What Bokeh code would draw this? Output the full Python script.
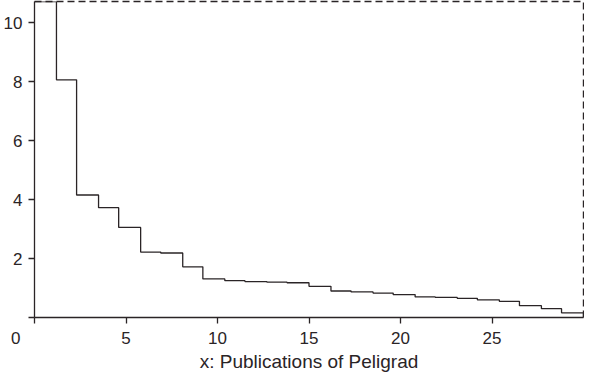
from bokeh.plotting import figure
from bokeh.models import Range1d, FixedTicker, LinearAxis
from bokeh.embed import file_html
from bokeh.resources import INLINE

# Step edges along the x axis (publications) and the step heights
x_edges = [0.0, 1.2, 2.3, 3.5, 4.6, 5.8, 6.9, 8.1, 9.2, 10.4, 11.5, 12.7, 13.8,
           15.0, 16.2, 17.3, 18.5, 19.6, 20.8, 21.9, 23.1, 24.2, 25.4, 26.5,
           27.7, 28.8, 30.0]
y_values = [10.73, 8.07, 4.16, 3.73, 3.06, 2.22, 2.19, 1.72, 1.31, 1.25, 1.22,
            1.20, 1.18, 1.06, 0.90, 0.87, 0.83, 0.78, 0.70, 0.68, 0.65, 0.60,
            0.55, 0.40, 0.30, 0.16, 0.0]

x_ticks = [0, 5, 10, 15, 20, 25]
y_ticks = [0, 2, 4, 6, 8, 10]
x_label = "x: Publications of Peligrad"
x_max = 30
y_max = 10.73

INK = "#2a2426"
FONT = "Liberation Sans"

p = figure(width=584, height=374, output_backend="svg", toolbar_location=None,
           x_range=Range1d(0, x_max), y_range=Range1d(0, y_max))
p.min_border_top = 1
p.min_border_right = 1
p.min_border_left = 10
p.min_border_bottom = 10
p.grid.visible = False
p.background_fill_color = "white"
p.border_fill_color = "white"
p.outline_line_color = None

xa = p.below[0]
ya = p.left[0]

p.step(x_edges, y_values, mode="after", line_color=INK, line_width=1.3)

# dashed frame on top and right
for place in ("above", "right"):
    ax = LinearAxis(ticker=FixedTicker(ticks=[]), axis_line_color=INK,
                    axis_line_width=1.4, axis_line_dash="7 4",
                    major_tick_out=0, major_tick_in=0, minor_tick_out=0,
                    minor_tick_in=0, major_label_standoff=0,
                    major_label_text_font_size="0px")
    p.add_layout(ax, place)

for ax in (xa, ya):
    ax.axis_line_color = INK
    ax.axis_line_width = 1.3
    ax.major_tick_line_color = INK
    ax.major_tick_line_width = 1.3
    ax.major_tick_out = 6
    ax.major_tick_in = 0
    ax.minor_tick_line_color = None
    ax.major_label_text_font = FONT
    ax.major_label_text_font_size = "17px"
    ax.major_label_text_color = INK

xa.ticker = FixedTicker(ticks=x_ticks)
ya.ticker = FixedTicker(ticks=y_ticks)
ya.major_label_overrides = {0: ""}
# the shared origin label sits left of the x-axis zero tick
xa.major_label_overrides = {0: "0" + "\u00a0" * 8}
xa.major_label_standoff = 5
ya.major_label_standoff = 6
xa.axis_label = x_label
xa.axis_label_text_font = FONT
xa.axis_label_text_font_size = "19px"
xa.axis_label_text_font_style = "normal"
xa.axis_label_text_color = INK
xa.axis_label_standoff = 0

open("out.html", "w").write(file_html(p, INLINE))
